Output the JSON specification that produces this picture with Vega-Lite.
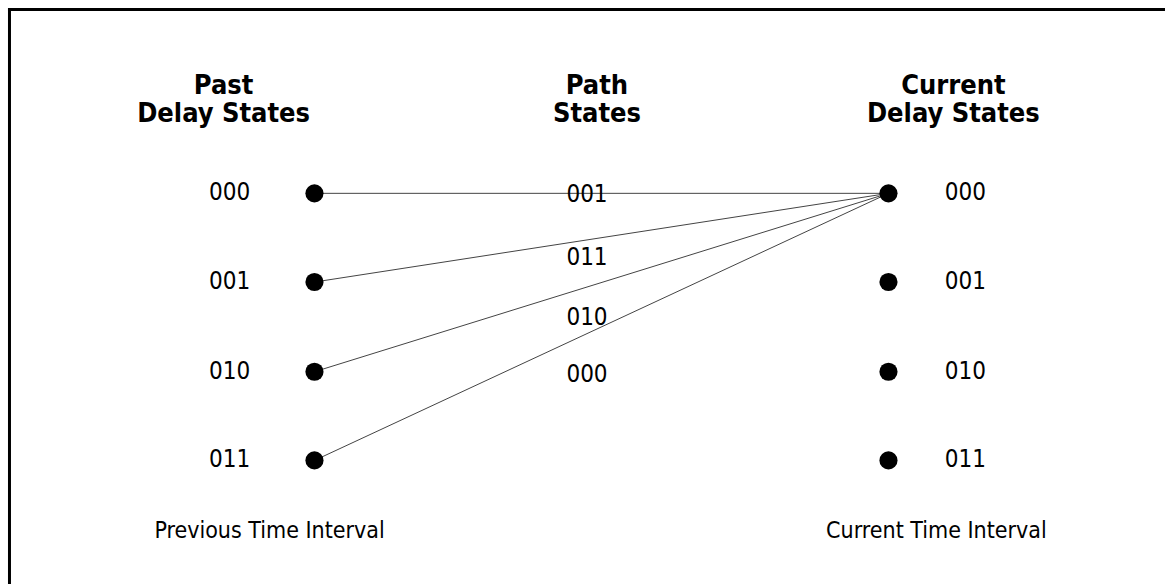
{
  "$schema": "https://vega.github.io/schema/vega-lite/v6.json",
  "width": 1167,
  "height": 586,
  "autosize": {"type": "fit", "contains": "padding"},
  "padding": 0,
  "background": "white",
  "config": {"view": {"stroke": null}},
  "datasets": {
    "frame": [
      {"x": 9.5, "y": 8, "x2": 9.5, "y2": 586},
      {"x": 8, "y": 9.5, "x2": 1167, "y2": 9.5}
    ],
    "edges": [
      {"from": "000", "x": 315, "y": 194, "x2": 890, "y2": 194},
      {"from": "001", "x": 315, "y": 283, "x2": 890, "y2": 194},
      {"from": "010", "x": 315, "y": 373, "x2": 890, "y2": 194},
      {"from": "011", "x": 315, "y": 462, "x2": 890, "y2": 194}
    ],
    "nodes": [
      {"state": "000", "side": "past", "x": 315, "y": 194},
      {"state": "001", "side": "past", "x": 315, "y": 283},
      {"state": "010", "side": "past", "x": 315, "y": 373},
      {"state": "011", "side": "past", "x": 315, "y": 462},
      {"state": "000", "side": "current", "x": 890, "y": 194},
      {"state": "001", "side": "current", "x": 890, "y": 283},
      {"state": "010", "side": "current", "x": 890, "y": 373},
      {"state": "011", "side": "current", "x": 890, "y": 462}
    ],
    "labels": [
      {"label": "000", "x": 230, "y": 194},
      {"label": "001", "x": 230, "y": 283},
      {"label": "010", "x": 230, "y": 373},
      {"label": "011", "x": 230, "y": 462},
      {"label": "000", "x": 967, "y": 194},
      {"label": "001", "x": 967, "y": 283},
      {"label": "010", "x": 967, "y": 373},
      {"label": "011", "x": 967, "y": 462},
      {"label": "001", "x": 588, "y": 196},
      {"label": "011", "x": 588, "y": 259},
      {"label": "010", "x": 588, "y": 319},
      {"label": "000", "x": 588, "y": 376}
    ],
    "headers": [
      {"label": "Past\nDelay States", "x": 224, "y": 73},
      {"label": "Path\nStates", "x": 598, "y": 73},
      {"label": "Current\nDelay States", "x": 955, "y": 73}
    ],
    "footers": [
      {"label": "Previous Time Interval", "x": 270, "y": 533},
      {"label": "Current Time Interval", "x": 938, "y": 533}
    ]
  },
  "layer": [
    {
      "data": {"name": "frame"},
      "mark": {"type": "rule", "color": "black", "strokeWidth": 3},
      "encoding": {
        "x": {"field": "x", "type": "quantitative", "scale": {"domain": [0, 1167], "nice": false, "zero": false}, "axis": null},
        "y": {"field": "y", "type": "quantitative", "scale": {"domain": [0, 586], "nice": false, "zero": false, "reverse": true}, "axis": null},
        "x2": {"field": "x2"},
        "y2": {"field": "y2"}
      }
    },
    {
      "data": {"name": "edges"},
      "mark": {"type": "rule", "color": "#444444", "strokeWidth": 1},
      "encoding": {
        "x": {"field": "x", "type": "quantitative"},
        "y": {"field": "y", "type": "quantitative"},
        "x2": {"field": "x2"},
        "y2": {"field": "y2"}
      }
    },
    {
      "data": {"name": "nodes"},
      "mark": {"type": "point", "filled": true, "color": "black", "opacity": 1, "size": 330, "shape": "circle"},
      "encoding": {
        "x": {"field": "x", "type": "quantitative"},
        "y": {"field": "y", "type": "quantitative"}
      }
    },
    {
      "data": {"name": "labels"},
      "mark": {"type": "text", "font": "DejaVu Sans Condensed", "fontSize": 24, "color": "black", "align": "center", "baseline": "middle"},
      "encoding": {
        "x": {"field": "x", "type": "quantitative"},
        "y": {"field": "y", "type": "quantitative"},
        "text": {"field": "label"}
      }
    },
    {
      "data": {"name": "headers"},
      "mark": {"type": "text", "font": "DejaVu Sans Condensed", "fontWeight": "bold", "fontSize": 27, "lineHeight": 28, "lineBreak": "\n", "color": "black", "align": "center", "baseline": "top"},
      "encoding": {
        "x": {"field": "x", "type": "quantitative"},
        "y": {"field": "y", "type": "quantitative"},
        "text": {"field": "label"}
      }
    },
    {
      "data": {"name": "footers"},
      "mark": {"type": "text", "font": "DejaVu Sans Condensed", "fontSize": 23, "color": "black", "align": "center", "baseline": "middle"},
      "encoding": {
        "x": {"field": "x", "type": "quantitative"},
        "y": {"field": "y", "type": "quantitative"},
        "text": {"field": "label"}
      }
    }
  ]
}
